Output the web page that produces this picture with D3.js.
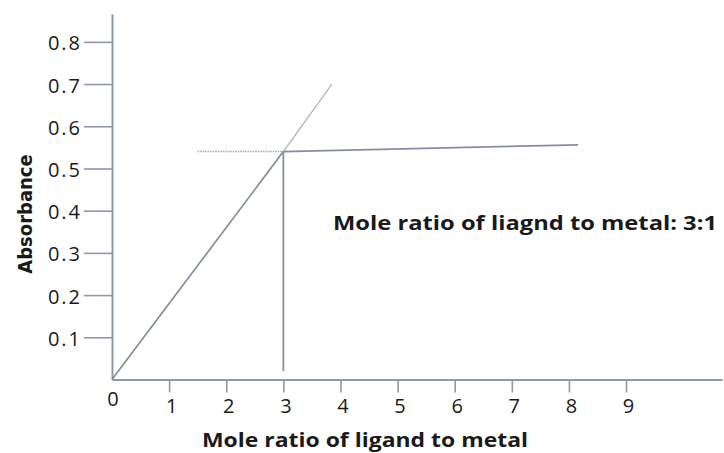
<!DOCTYPE html>
<html>
<head>
<meta charset="utf-8">
<script src="https://cdn.jsdelivr.net/npm/d3@7"></script>
<style>
  body { margin: 0; background: #fff; }
  text { font-family: "Open Sans", "DejaVu Sans", sans-serif; fill: #1a1a1a; }
</style>
</head>
<body>
<svg id="chart"></svg>
<script>
// values
const xTicks = [1, 2, 3, 4, 5, 6, 7, 8, 9];
const yTicks = [0.1, 0.2, 0.3, 0.4, 0.5, 0.6, 0.7, 0.8];

// rising line up to the break point, then its faint extension
const riseX = [0, 3];
const riseY = [0, 0.54];
const extX = [3, 3.85];
const extY = [0.54, 0.7];
// plateau after the break point
const flatX = [3, 8.16];
const flatY = [0.54, 0.556];
// guide lines
const dropX = [3, 3];
const dropY = [0.54, 0.02];
const guideX = [1.5, 3];
const guideY = [0.54, 0.54];

const note = "Mole ratio of liagnd to metal: 3:1";

const width = 724, height = 453;
const margin = { top: 14, right: 2, bottom: 73, left: 112 };

const svg = d3.select("#chart")
    .attr("width", width)
    .attr("height", height);

const x = d3.scaleLinear()
    .domain([0, 10.68])
    .range([margin.left, width - margin.right]);

const y = d3.scaleLinear()
    .domain([0, 0.866])
    .range([height - margin.bottom - 0.5, margin.top]);

const axisColor = "#8f98ab";

// y axis
const gy = svg.append("g")
    .attr("transform", `translate(${margin.left},0)`)
    .call(d3.axisLeft(y).tickValues(yTicks).tickSize(28).tickSizeOuter(0).tickPadding(2)
        .tickFormat(d3.format(".1f")));
gy.attr("font-size", null);
gy.select(".domain").attr("stroke", axisColor).attr("stroke-width", 2);
gy.selectAll(".tick line").attr("stroke", axisColor).attr("stroke-width", 1.6);
gy.selectAll(".tick text").attr("font-size", 20).attr("font-weight", 500)
    .attr("letter-spacing", 2).attr("dy", "0.4em").attr("fill", "#1a1a1a");

// x axis
const gx = svg.append("g")
    .attr("transform", `translate(0,${y(0)})`)
    .call(d3.axisBottom(x).tickValues(xTicks).tickSize(13).tickSizeOuter(0).tickPadding(6));
gx.attr("font-size", null);
gx.select(".domain").attr("stroke", axisColor).attr("stroke-width", 2);
gx.selectAll(".tick line").attr("stroke", axisColor).attr("stroke-width", 1.6);
gx.selectAll(".tick text").attr("font-size", 20).attr("font-weight", 500)
    .attr("dx", 2).attr("fill", "#1a1a1a");

// origin label
svg.append("text")
    .attr("x", x(0) + 1)
    .attr("y", y(0) + 20)
    .attr("dy", "0.32em")
    .attr("text-anchor", "middle")
    .attr("font-size", 20)
    .attr("font-weight", 500)
    .text("0");

const line = (xs, ys) => d3.line()(xs.map((v, i) => [x(v), y(ys[i])]));

svg.append("path").attr("d", line(guideX, guideY))
    .attr("fill", "none").attr("stroke", "#a9a9a9").attr("stroke-width", 1.5)
    .attr("stroke-dasharray", "1.5,1");
svg.append("path").attr("d", line(extX, extY))
    .attr("fill", "none").attr("stroke", "#b4b4b4").attr("stroke-width", 1.3);
svg.append("path").attr("d", line(riseX, riseY))
    .attr("fill", "none").attr("stroke", "#7f889c").attr("stroke-width", 1.6);
svg.append("path").attr("d", line(flatX, flatY))
    .attr("fill", "none").attr("stroke", "#858ea2").attr("stroke-width", 1.8);
svg.append("path").attr("d", line(dropX, dropY))
    .attr("fill", "none").attr("stroke", "#858ea2").attr("stroke-width", 1.8);

// annotation
svg.append("text")
    .attr("x", 333)
    .attr("y", 230)
    .attr("textLength", 384)
    .attr("lengthAdjust", "spacingAndGlyphs")
    .style("font-size", "20px")
    .style("font-weight", "bold")
    .text(note);

// axis titles
svg.append("text")
    .attr("x", 202)
    .attr("y", 447)
    .attr("textLength", 326)
    .attr("lengthAdjust", "spacingAndGlyphs")
    .style("font-size", "19.5px")
    .style("font-weight", "bold")
    .text("Mole ratio of ligand to metal");

svg.append("text")
    .attr("transform", "translate(32,214) rotate(-90)")
    .attr("text-anchor", "middle")
    .style("font-family", "'Liberation Sans Narrow', 'DejaVu Sans Condensed', sans-serif")
    .style("font-size", "20px")
    .style("font-weight", "bold")
    .text("Absorbance");
</script>
</body>
</html>
